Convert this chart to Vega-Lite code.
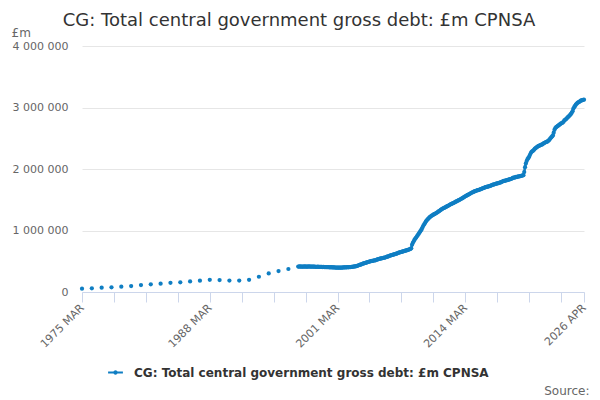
{
  "$schema": "https://vega.github.io/schema/vega-lite/v6.json",
  "description": "CG: Total central government gross debt, £m CPNSA",
  "autosize": {"type": "none"},
  "width": 502,
  "height": 246,
  "padding": {"left": 82, "top": 46, "right": 16, "bottom": 108},
  "title": {
    "text": "CG: Total central government gross debt: £m CPNSA",
    "font": "DejaVu Sans",
    "fontSize": 18,
    "fontWeight": "normal",
    "color": "#333333",
    "anchor": "middle",
    "dx": -34,
    "offset": -4
  },
  "data": {
    "values": [
      {"d": "1975-03", "v": 54000}, {"d": "1976-03", "v": 60000}, {"d": "1977-03", "v": 70000}, {"d": "1978-03", "v": 76000},
      {"d": "1979-03", "v": 86000}, {"d": "1980-03", "v": 97000}, {"d": "1981-03", "v": 113000}, {"d": "1982-03", "v": 124000},
      {"d": "1983-03", "v": 135000}, {"d": "1984-03", "v": 150000}, {"d": "1985-03", "v": 157000}, {"d": "1986-03", "v": 172000},
      {"d": "1987-03", "v": 184000}, {"d": "1988-03", "v": 199000}, {"d": "1989-03", "v": 195000}, {"d": "1990-03", "v": 185000},
      {"d": "1991-03", "v": 185000}, {"d": "1992-03", "v": 199000}, {"d": "1993-03", "v": 248000}, {"d": "1994-03", "v": 302000},
      {"d": "1995-03", "v": 341000}, {"d": "1996-03", "v": 374000},
      {"d": "1997-03", "v": 414000}, {"d": "1997-04", "v": 412000}, {"d": "1997-05", "v": 415000}, {"d": "1997-06", "v": 413000},
      {"d": "1997-07", "v": 411000}, {"d": "1997-08", "v": 414000}, {"d": "1997-09", "v": 412000}, {"d": "1997-10", "v": 413000},
      {"d": "1997-11", "v": 415000}, {"d": "1997-12", "v": 412000},
      {"d": "1998-01", "v": 412000}, {"d": "1998-02", "v": 414000}, {"d": "1998-03", "v": 413000}, {"d": "1998-04", "v": 415000},
      {"d": "1998-05", "v": 412000}, {"d": "1998-06", "v": 413000}, {"d": "1998-07", "v": 414000}, {"d": "1998-08", "v": 411000},
      {"d": "1998-09", "v": 412000}, {"d": "1998-10", "v": 413000}, {"d": "1998-11", "v": 411000}, {"d": "1998-12", "v": 410000},
      {"d": "1999-01", "v": 410000}, {"d": "1999-02", "v": 409000}, {"d": "1999-03", "v": 411000}, {"d": "1999-04", "v": 408000},
      {"d": "1999-05", "v": 410000}, {"d": "1999-06", "v": 409000}, {"d": "1999-07", "v": 407000}, {"d": "1999-08", "v": 408000},
      {"d": "1999-09", "v": 406000}, {"d": "1999-10", "v": 408000}, {"d": "1999-11", "v": 405000}, {"d": "1999-12", "v": 406000},
      {"d": "2000-01", "v": 405000}, {"d": "2000-02", "v": 404000}, {"d": "2000-03", "v": 403000}, {"d": "2000-04", "v": 405000},
      {"d": "2000-05", "v": 402000}, {"d": "2000-06", "v": 401000}, {"d": "2000-07", "v": 403000}, {"d": "2000-08", "v": 400000},
      {"d": "2000-09", "v": 399000}, {"d": "2000-10", "v": 401000}, {"d": "2000-11", "v": 399000}, {"d": "2000-12", "v": 398000},
      {"d": "2001-01", "v": 398000}, {"d": "2001-02", "v": 397000}, {"d": "2001-03", "v": 396000}, {"d": "2001-04", "v": 398000},
      {"d": "2001-05", "v": 396000}, {"d": "2001-06", "v": 395000}, {"d": "2001-07", "v": 397000}, {"d": "2001-08", "v": 396000},
      {"d": "2001-09", "v": 398000}, {"d": "2001-10", "v": 399000}, {"d": "2001-11", "v": 400000}, {"d": "2001-12", "v": 401000},
      {"d": "2002-01", "v": 400000}, {"d": "2002-02", "v": 401000}, {"d": "2002-03", "v": 403000}, {"d": "2002-04", "v": 402000},
      {"d": "2002-05", "v": 404000}, {"d": "2002-06", "v": 405000}, {"d": "2002-07", "v": 406000}, {"d": "2002-08", "v": 408000},
      {"d": "2002-09", "v": 409000}, {"d": "2002-10", "v": 411000}, {"d": "2002-11", "v": 413000}, {"d": "2002-12", "v": 415000},
      {"d": "2003-01", "v": 418000}, {"d": "2003-02", "v": 420000}, {"d": "2003-03", "v": 425000}, {"d": "2003-04", "v": 430000},
      {"d": "2003-05", "v": 435000}, {"d": "2003-06", "v": 440000}, {"d": "2003-07", "v": 445000}, {"d": "2003-08", "v": 450000},
      {"d": "2003-09", "v": 455000}, {"d": "2003-10", "v": 460000}, {"d": "2003-11", "v": 465000}, {"d": "2003-12", "v": 470000},
      {"d": "2004-01", "v": 473000}, {"d": "2004-02", "v": 477000}, {"d": "2004-03", "v": 482000}, {"d": "2004-04", "v": 486000},
      {"d": "2004-05", "v": 490000}, {"d": "2004-06", "v": 494000}, {"d": "2004-07", "v": 498000}, {"d": "2004-08", "v": 502000},
      {"d": "2004-09", "v": 505000}, {"d": "2004-10", "v": 508000}, {"d": "2004-11", "v": 511000}, {"d": "2004-12", "v": 513000},
      {"d": "2005-01", "v": 515000}, {"d": "2005-02", "v": 520000}, {"d": "2005-03", "v": 525000}, {"d": "2005-04", "v": 530000},
      {"d": "2005-05", "v": 535000}, {"d": "2005-06", "v": 538000}, {"d": "2005-07", "v": 542000}, {"d": "2005-08", "v": 545000},
      {"d": "2005-09", "v": 548000}, {"d": "2005-10", "v": 552000}, {"d": "2005-11", "v": 555000}, {"d": "2005-12", "v": 558000},
      {"d": "2006-01", "v": 560000}, {"d": "2006-02", "v": 565000}, {"d": "2006-03", "v": 570000}, {"d": "2006-04", "v": 575000},
      {"d": "2006-05", "v": 580000}, {"d": "2006-06", "v": 585000}, {"d": "2006-07", "v": 590000}, {"d": "2006-08", "v": 595000},
      {"d": "2006-09", "v": 600000}, {"d": "2006-10", "v": 603000}, {"d": "2006-11", "v": 607000}, {"d": "2006-12", "v": 611000},
      {"d": "2007-01", "v": 615000}, {"d": "2007-02", "v": 620000}, {"d": "2007-03", "v": 625000}, {"d": "2007-04", "v": 630000},
      {"d": "2007-05", "v": 635000}, {"d": "2007-06", "v": 640000}, {"d": "2007-07", "v": 645000}, {"d": "2007-08", "v": 648000},
      {"d": "2007-09", "v": 652000}, {"d": "2007-10", "v": 655000}, {"d": "2007-11", "v": 660000}, {"d": "2007-12", "v": 664000},
      {"d": "2008-01", "v": 668000}, {"d": "2008-02", "v": 672000}, {"d": "2008-03", "v": 676000}, {"d": "2008-04", "v": 680000},
      {"d": "2008-05", "v": 685000}, {"d": "2008-06", "v": 690000}, {"d": "2008-07", "v": 695000}, {"d": "2008-08", "v": 700000},
      {"d": "2008-09", "v": 710000}, {"d": "2008-10", "v": 770000}, {"d": "2008-11", "v": 800000}, {"d": "2008-12", "v": 825000},
      {"d": "2009-01", "v": 850000}, {"d": "2009-02", "v": 868000}, {"d": "2009-03", "v": 885000}, {"d": "2009-04", "v": 905000},
      {"d": "2009-05", "v": 925000}, {"d": "2009-06", "v": 945000}, {"d": "2009-07", "v": 965000}, {"d": "2009-08", "v": 985000},
      {"d": "2009-09", "v": 1005000}, {"d": "2009-10", "v": 1030000}, {"d": "2009-11", "v": 1055000}, {"d": "2009-12", "v": 1085000},
      {"d": "2010-01", "v": 1105000}, {"d": "2010-02", "v": 1125000}, {"d": "2010-03", "v": 1148000}, {"d": "2010-04", "v": 1165000},
      {"d": "2010-05", "v": 1180000}, {"d": "2010-06", "v": 1195000}, {"d": "2010-07", "v": 1208000}, {"d": "2010-08", "v": 1220000},
      {"d": "2010-09", "v": 1230000}, {"d": "2010-10", "v": 1240000}, {"d": "2010-11", "v": 1248000}, {"d": "2010-12", "v": 1258000},
      {"d": "2011-01", "v": 1265000}, {"d": "2011-02", "v": 1272000}, {"d": "2011-03", "v": 1280000}, {"d": "2011-04", "v": 1288000},
      {"d": "2011-05", "v": 1295000}, {"d": "2011-06", "v": 1305000}, {"d": "2011-07", "v": 1315000}, {"d": "2011-08", "v": 1325000},
      {"d": "2011-09", "v": 1335000}, {"d": "2011-10", "v": 1345000}, {"d": "2011-11", "v": 1352000}, {"d": "2011-12", "v": 1360000},
      {"d": "2012-01", "v": 1366000}, {"d": "2012-02", "v": 1372000}, {"d": "2012-03", "v": 1380000}, {"d": "2012-04", "v": 1388000},
      {"d": "2012-05", "v": 1395000}, {"d": "2012-06", "v": 1402000}, {"d": "2012-07", "v": 1410000}, {"d": "2012-08", "v": 1418000},
      {"d": "2012-09", "v": 1425000}, {"d": "2012-10", "v": 1432000}, {"d": "2012-11", "v": 1438000}, {"d": "2012-12", "v": 1445000},
      {"d": "2013-01", "v": 1450000}, {"d": "2013-02", "v": 1458000}, {"d": "2013-03", "v": 1465000}, {"d": "2013-04", "v": 1472000},
      {"d": "2013-05", "v": 1478000}, {"d": "2013-06", "v": 1485000}, {"d": "2013-07", "v": 1492000}, {"d": "2013-08", "v": 1500000},
      {"d": "2013-09", "v": 1508000}, {"d": "2013-10", "v": 1515000}, {"d": "2013-11", "v": 1522000}, {"d": "2013-12", "v": 1530000},
      {"d": "2014-01", "v": 1540000}, {"d": "2014-02", "v": 1548000}, {"d": "2014-03", "v": 1555000}, {"d": "2014-04", "v": 1562000},
      {"d": "2014-05", "v": 1570000}, {"d": "2014-06", "v": 1578000}, {"d": "2014-07", "v": 1585000}, {"d": "2014-08", "v": 1592000},
      {"d": "2014-09", "v": 1600000}, {"d": "2014-10", "v": 1608000}, {"d": "2014-11", "v": 1615000}, {"d": "2014-12", "v": 1622000},
      {"d": "2015-01", "v": 1628000}, {"d": "2015-02", "v": 1635000}, {"d": "2015-03", "v": 1640000}, {"d": "2015-04", "v": 1645000},
      {"d": "2015-05", "v": 1650000}, {"d": "2015-06", "v": 1655000}, {"d": "2015-07", "v": 1658000}, {"d": "2015-08", "v": 1662000},
      {"d": "2015-09", "v": 1668000}, {"d": "2015-10", "v": 1672000}, {"d": "2015-11", "v": 1678000}, {"d": "2015-12", "v": 1685000},
      {"d": "2016-01", "v": 1690000}, {"d": "2016-02", "v": 1695000}, {"d": "2016-03", "v": 1700000}, {"d": "2016-04", "v": 1705000},
      {"d": "2016-05", "v": 1708000}, {"d": "2016-06", "v": 1712000}, {"d": "2016-07", "v": 1715000}, {"d": "2016-08", "v": 1720000},
      {"d": "2016-09", "v": 1722000}, {"d": "2016-10", "v": 1728000}, {"d": "2016-11", "v": 1735000}, {"d": "2016-12", "v": 1740000},
      {"d": "2017-01", "v": 1745000}, {"d": "2017-02", "v": 1750000}, {"d": "2017-03", "v": 1752000}, {"d": "2017-04", "v": 1758000},
      {"d": "2017-05", "v": 1762000}, {"d": "2017-06", "v": 1765000}, {"d": "2017-07", "v": 1770000}, {"d": "2017-08", "v": 1772000},
      {"d": "2017-09", "v": 1778000}, {"d": "2017-10", "v": 1782000}, {"d": "2017-11", "v": 1788000}, {"d": "2017-12", "v": 1795000},
      {"d": "2018-01", "v": 1800000}, {"d": "2018-02", "v": 1805000}, {"d": "2018-03", "v": 1808000}, {"d": "2018-04", "v": 1812000},
      {"d": "2018-05", "v": 1815000}, {"d": "2018-06", "v": 1820000}, {"d": "2018-07", "v": 1822000}, {"d": "2018-08", "v": 1828000},
      {"d": "2018-09", "v": 1830000}, {"d": "2018-10", "v": 1836000}, {"d": "2018-11", "v": 1840000}, {"d": "2018-12", "v": 1845000},
      {"d": "2019-01", "v": 1855000}, {"d": "2019-02", "v": 1860000}, {"d": "2019-03", "v": 1858000}, {"d": "2019-04", "v": 1865000},
      {"d": "2019-05", "v": 1870000}, {"d": "2019-06", "v": 1868000}, {"d": "2019-07", "v": 1875000}, {"d": "2019-08", "v": 1880000},
      {"d": "2019-09", "v": 1878000}, {"d": "2019-10", "v": 1885000}, {"d": "2019-11", "v": 1890000}, {"d": "2019-12", "v": 1890000},
      {"d": "2020-01", "v": 1895000}, {"d": "2020-02", "v": 1900000}, {"d": "2020-03", "v": 1950000}, {"d": "2020-04", "v": 2030000},
      {"d": "2020-05", "v": 2090000}, {"d": "2020-06", "v": 2130000}, {"d": "2020-07", "v": 2160000}, {"d": "2020-08", "v": 2180000},
      {"d": "2020-09", "v": 2200000}, {"d": "2020-10", "v": 2230000}, {"d": "2020-11", "v": 2260000}, {"d": "2020-12", "v": 2280000},
      {"d": "2021-01", "v": 2290000}, {"d": "2021-02", "v": 2300000}, {"d": "2021-03", "v": 2315000}, {"d": "2021-04", "v": 2330000},
      {"d": "2021-05", "v": 2340000}, {"d": "2021-06", "v": 2350000}, {"d": "2021-07", "v": 2360000}, {"d": "2021-08", "v": 2370000},
      {"d": "2021-09", "v": 2375000}, {"d": "2021-10", "v": 2385000}, {"d": "2021-11", "v": 2390000}, {"d": "2021-12", "v": 2395000},
      {"d": "2022-01", "v": 2400000}, {"d": "2022-02", "v": 2410000}, {"d": "2022-03", "v": 2420000}, {"d": "2022-04", "v": 2425000},
      {"d": "2022-05", "v": 2435000}, {"d": "2022-06", "v": 2440000}, {"d": "2022-07", "v": 2445000}, {"d": "2022-08", "v": 2455000},
      {"d": "2022-09", "v": 2465000}, {"d": "2022-10", "v": 2480000}, {"d": "2022-11", "v": 2500000}, {"d": "2022-12", "v": 2515000},
      {"d": "2023-01", "v": 2530000}, {"d": "2023-02", "v": 2545000}, {"d": "2023-03", "v": 2590000}, {"d": "2023-04", "v": 2640000},
      {"d": "2023-05", "v": 2665000}, {"d": "2023-06", "v": 2680000}, {"d": "2023-07", "v": 2690000}, {"d": "2023-08", "v": 2700000},
      {"d": "2023-09", "v": 2710000}, {"d": "2023-10", "v": 2720000}, {"d": "2023-11", "v": 2730000}, {"d": "2023-12", "v": 2740000},
      {"d": "2024-01", "v": 2748000}, {"d": "2024-02", "v": 2755000}, {"d": "2024-03", "v": 2770000}, {"d": "2024-04", "v": 2790000},
      {"d": "2024-05", "v": 2800000}, {"d": "2024-06", "v": 2810000}, {"d": "2024-07", "v": 2825000}, {"d": "2024-08", "v": 2840000},
      {"d": "2024-09", "v": 2850000}, {"d": "2024-10", "v": 2865000}, {"d": "2024-11", "v": 2880000}, {"d": "2024-12", "v": 2895000},
      {"d": "2025-01", "v": 2915000}, {"d": "2025-02", "v": 2940000}, {"d": "2025-03", "v": 2980000}, {"d": "2025-04", "v": 3005000},
      {"d": "2025-05", "v": 3025000}, {"d": "2025-06", "v": 3045000}, {"d": "2025-07", "v": 3060000}, {"d": "2025-08", "v": 3075000},
      {"d": "2025-09", "v": 3085000}, {"d": "2025-10", "v": 3090000}, {"d": "2025-11", "v": 3100000}, {"d": "2025-12", "v": 3110000},
      {"d": "2026-01", "v": 3115000}, {"d": "2026-02", "v": 3120000}, {"d": "2026-03", "v": 3125000}, {"d": "2026-04", "v": 3128000}
    ]
  },
  "encoding": {
    "x": {
      "field": "d",
      "type": "temporal",
      "scale": {"domain": [{"year": 1975, "month": 3, "date": 1}, {"year": 2026, "month": 4, "date": 1}]},
      "axis": {
        "title": "Source:",
        "titleFont": "DejaVu Sans",
        "titleFontSize": 12,
        "titleFontWeight": "normal",
        "titleColor": "#666666",
        "titleAlign": "right",
        "titleAnchor": "end",
        "titleBaseline": "alphabetic",
        "titleX": 507,
        "titleY": 102,
        "values": [
          {"year": 1975, "month": 3, "date": 1}, {"year": 1978, "month": 6, "date": 1}, {"year": 1981, "month": 9, "date": 1},
          {"year": 1984, "month": 12, "date": 1}, {"year": 1988, "month": 3, "date": 1}, {"year": 1991, "month": 6, "date": 1},
          {"year": 1994, "month": 9, "date": 1}, {"year": 1997, "month": 12, "date": 1}, {"year": 2001, "month": 3, "date": 1},
          {"year": 2004, "month": 6, "date": 1}, {"year": 2007, "month": 9, "date": 1}, {"year": 2010, "month": 12, "date": 1},
          {"year": 2014, "month": 3, "date": 1}, {"year": 2017, "month": 6, "date": 1}, {"year": 2020, "month": 9, "date": 1},
          {"year": 2023, "month": 12, "date": 1}, {"year": 2026, "month": 4, "date": 1}
        ],
        "labelExpr": "indexof(['1975 MAR','1988 MAR','2001 MAR','2014 MAR','2026 APR'], upper(timeFormat(datum.value, '%Y %b'))) >= 0 ? upper(timeFormat(datum.value, '%Y %b')) : ''",
        "labelAngle": -45,
        "labelAlign": "right",
        "labelBaseline": "middle",
        "labelFont": "DejaVu Sans",
        "labelFontSize": 11,
        "labelColor": "#666666",
        "labelPadding": 4,
        "labelOverlap": false,
        "labelFlush": false,
        "domainColor": "#ccd6eb",
        "tickColor": "#ccd6eb",
        "tickSize": 10,
        "grid": false
      }
    },
    "y": {
      "field": "v",
      "type": "quantitative",
      "scale": {"domain": [0, 4000000], "nice": false},
      "axis": {
        "title": "£m",
        "titleFont": "DejaVu Sans",
        "titleFontSize": 12,
        "titleFontWeight": "normal",
        "titleColor": "#666666",
        "titleAngle": 0,
        "titleAlign": "left",
        "titleBaseline": "alphabetic",
        "titleX": -71,
        "titleY": -10,
        "values": [0, 1000000, 2000000, 3000000, 4000000],
        "format": ",d",
        "labelFont": "DejaVu Sans",
        "labelFontSize": 11,
        "labelColor": "#666666",
        "labelPadding": 14,
        "domain": false,
        "ticks": false,
        "gridColor": "#e6e6e6"
      }
    },
    "color": {
      "datum": "CG: Total central government gross debt: £m CPNSA",
      "type": "nominal",
      "scale": {"range": ["#0f7ec3"]},
      "legend": {
        "title": null,
        "orient": "none",
        "legendX": 26,
        "legendY": 319,
        "labelFont": "DejaVu Sans",
        "labelFontSize": 12,
        "labelFontWeight": "bold",
        "labelColor": "#333333",
        "labelLimit": 500,
        "labelOffset": 11,
        "symbolType": "M-1,-0.12H1V0.12H-1Z M-0.3,0A0.3,0.3 0 1,1 0.3,0A0.3,0.3 0 1,1 -0.3,0Z",
        "symbolSize": 220,
        "symbolStrokeWidth": 0,
        "symbolFillColor": "#0f7ec3"
      }
    }
  },
  "layer": [
    {
      "transform": [{"filter": "year(datum.d) >= 1997"}],
      "mark": {"type": "line", "strokeWidth": 2.5}
    },
    {
      "mark": {"type": "point", "filled": true, "size": 18, "opacity": 1}
    }
  ],
  "config": {
    "locale": {"number": {"decimal": ".", "thousands": " ", "grouping": [3], "currency": ["£", ""]}},
    "view": {"stroke": null},
    "background": "#ffffff"
  }
}
